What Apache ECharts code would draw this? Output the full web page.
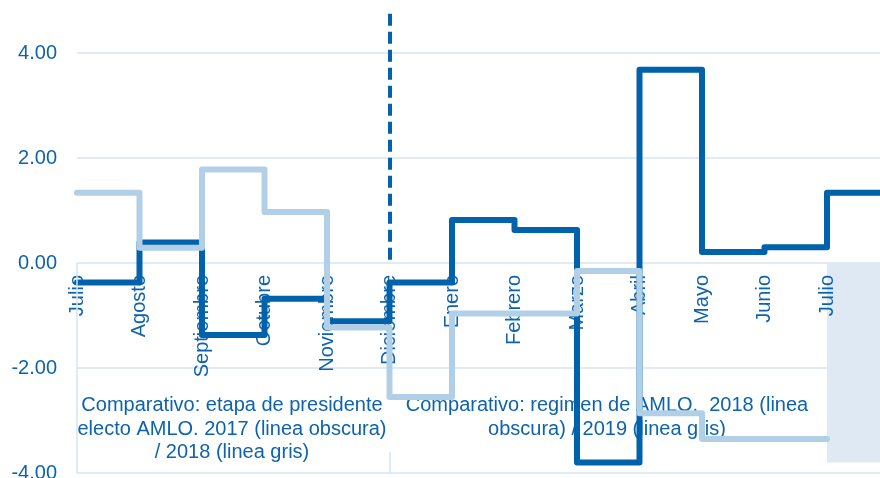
<!DOCTYPE html>
<html>
<head>
<meta charset="utf-8">
<script src="https://cdn.jsdelivr.net/npm/echarts@6/dist/echarts.min.js"></script>
<style>html,body{margin:0;padding:0;background:#fff}#c{width:880px;height:478px}</style>
</head>
<body>
<div id="c"></div>
<script>
// Categories (last one is a blank continuation point so the final step runs to the edge)
var categories = ['Julio','Agosto','Septiembre','Octubre','Noviembre','Diciembre','Enero','Febrero','Marzo','Abril','Mayo','Junio','Julio',''];
// Dark line: 2017/2018
var darkValues = [-0.37, 0.39, -1.37, -0.68, -1.11, -0.37, 0.82, 0.63, -3.80, 3.68, 0.21, 0.30, 1.34, 1.34];
// Light line: 2018/2019
var lightValues = [1.34, 0.29, 1.78, 0.97, -1.23, -2.55, -0.96, -0.96, -0.15, -2.86, -3.35, -3.35, null, null];
// Y ticks
var yMin = -4, yMax = 5.2, yStep = 2;
// Dashed divider at Diciembre
var dividerCategory = 'Diciembre';
var dividerRange = [4.75, 0];
// Hatched region (last Julio to the edge)
var shadeRange = [0, -3.8];
// Annotations
var noteLeft = 'Comparativo: etapa de presidente\nelecto AMLO. 2017 (linea obscura)\n/ 2018 (linea gris)';
var noteRight = 'Comparativo: regimen de AMLO.  2018 (linea\nobscura) / 2019 (linea gris)';

var DARK = '#0062ab', LIGHT = '#b1cfe6', TXT = '#0d63ad', GRID = '#d6e4f1';
var dIdx = categories.indexOf(dividerCategory);
var lastIdx = categories.length - 1;

var H = 478, gridTop = -10, gridBottom = 5;
var pxPerUnit = (H - gridTop - gridBottom) / (yMax - yMin);
var zeroOffset = -(0 - yMin) * pxPerUnit; // lift the category axis onto the zero line

var chart = echarts.init(document.getElementById('c'), null, {renderer: 'canvas'});
chart.setOption({
  animation: false,
  backgroundColor: '#fff',
  grid: {left: 77, right: -9.5, top: gridTop, bottom: gridBottom, containLabel: false, outerBoundsMode: 'none'},
  xAxis: {
    type: 'category', data: categories, boundaryGap: false, position: 'bottom', offset: zeroOffset, z: 2,
    axisLine: {show: false, onZero: false}, axisTick: {show: false},
    axisLabel: {rotate: 90, margin: 12, color: TXT, fontSize: 20, fontFamily: 'Liberation Sans', interval: 0, hideOverlap: false},
    splitLine: {show: false}
  },
  yAxis: {
    type: 'value', min: yMin, max: yMax, interval: yStep,
    axisLine: {show: false}, axisTick: {show: false},
    axisLabel: {showMaxLabel: false, margin: 20, color: TXT, fontSize: 20, fontFamily: 'Liberation Sans',
      formatter: function (v) { return v.toFixed(2); }},
    splitLine: {lineStyle: {color: GRID, width: 1.5}}
  },
  graphic: [
    {type: 'text', x: 232, y: 394, z: 1,
      style: {text: noteLeft, fill: TXT, font: '20px "Liberation Sans"', textAlign: 'center', textVerticalAlign: 'top', lineHeight: 23.5}},
    {type: 'text', x: 607, y: 394, z: 1,
      style: {text: noteRight, fill: TXT, font: '20px "Liberation Sans"', textAlign: 'center', textVerticalAlign: 'top', lineHeight: 23.5}}
  ],
  series: [
    {
      type: 'line', step: 'end', data: darkValues, symbol: 'none', z: 3,
      lineStyle: {color: DARK, width: 6, cap: 'round', join: 'round'},
      markLine: {
        silent: true, symbol: 'none', label: {show: false},
        data: [
          [{coord: [dIdx, dividerRange[0]], lineStyle: {color: DARK, width: 4, type: [12, 6]}},
           {coord: [dIdx, dividerRange[1]]}],
          [{coord: [0, 0], lineStyle: {color: GRID, width: 1.5, type: 'solid'}}, {coord: [0, yMin]}],
          [{coord: [dIdx, -3.6], lineStyle: {color: GRID, width: 1.5, type: 'solid'}}, {coord: [dIdx, yMin]}]
        ]
      },
      markArea: {
        silent: true, z: 1,
        itemStyle: {color: '#dfe9f4'},
        data: [[{coord: [lastIdx - 1, shadeRange[0]]}, {coord: [lastIdx, shadeRange[1]]}]]
      }
    },
    {
      type: 'line', step: 'end', data: lightValues, symbol: 'none', z: 4,
      lineStyle: {color: LIGHT, width: 6, cap: 'round', join: 'round'}
    }
  ]
});
</script>
</body>
</html>
